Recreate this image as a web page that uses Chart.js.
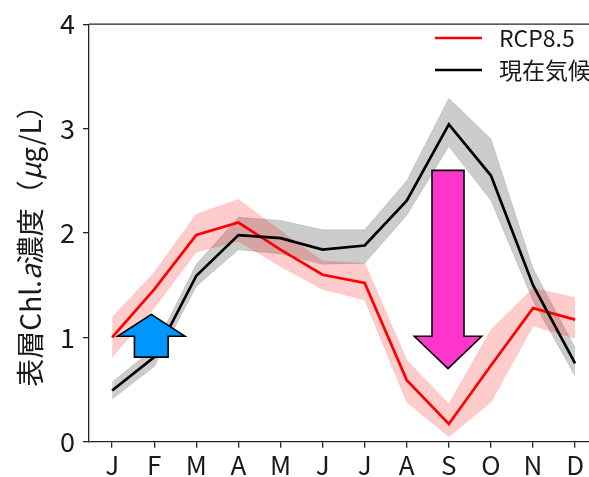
<!DOCTYPE html>
<html>
<head>
<meta charset="utf-8">
<script src="https://cdn.jsdelivr.net/npm/chart.js@4"></script>
<style>
html,body{margin:0;padding:0;background:#fff;}
#wrap{width:589px;height:477px;position:relative;}
</style>
</head>
<body>
<div id="wrap"><canvas id="c" width="589" height="477"></canvas></div>
<script>
const months = ['J','F','M','A','M','J','J','A','S','O','N','D'];
const yTicks = [0,1,2,3,4];
const seriesNames = ['RCP8.5','現在気候'];
const rcp85      = [1.00,1.46,1.98,2.10,1.84,1.60,1.52,0.59,0.17,0.73,1.28,1.17];
const rcp85Upper = [1.19,1.62,2.18,2.32,2.02,1.73,1.71,0.78,0.36,1.07,1.47,1.38];
const rcp85Lower = [0.81,1.28,1.82,1.92,1.68,1.46,1.36,0.38,0.05,0.38,1.11,0.99];
const present      = [0.49,0.81,1.59,1.98,1.95,1.84,1.88,2.31,3.04,2.55,1.50,0.75];
const presentUpper = [0.57,0.90,1.70,2.15,2.12,2.03,2.03,2.50,3.29,2.90,1.66,0.90];
const presentLower = [0.41,0.72,1.49,1.84,1.80,1.70,1.71,2.17,2.83,2.31,1.35,0.63];

const pts = arr => arr.map((v,i)=>({x:i,y:v}));
const FONT = "'Noto Sans CJK JP','Noto Sans',sans-serif";
const INK = '#1a1a1a';

const decor = {
  id:'decor',
  afterDatasetsDraw(chart){
    const ctx = chart.ctx, xs = chart.scales.x, ys = chart.scales.y, a = chart.chartArea;
    ctx.save();
    // top spine
    ctx.strokeStyle = '#262626'; ctx.lineWidth = 1.3;
    ctx.beginPath(); ctx.moveTo(a.left, a.top); ctx.lineTo(a.right, a.top); ctx.stroke();
    // arrows (annotation positions in data units)
    const arrows = [
      {x:0.93, tail:0.81, base:1.01, tip:1.22, hw:0.80, sw:0.40, color:'#0096ff'},
      {x:7.98, tail:2.60, base:1.01, tip:0.70, hw:0.80, sw:0.38, color:'#ff35cc'}
    ];
    arrows.forEach(ar=>{
      const cx = xs.getPixelForValue(ar.x);
      const hw = xs.getPixelForValue(ar.x+ar.hw)-cx;
      const sw = xs.getPixelForValue(ar.x+ar.sw)-cx;
      const yt = ys.getPixelForValue(ar.tail), yb = ys.getPixelForValue(ar.base), yp = ys.getPixelForValue(ar.tip);
      ctx.beginPath();
      ctx.moveTo(cx-sw, yt); ctx.lineTo(cx+sw, yt); ctx.lineTo(cx+sw, yb); ctx.lineTo(cx+hw, yb);
      ctx.lineTo(cx, yp); ctx.lineTo(cx-hw, yb); ctx.lineTo(cx-sw, yb); ctx.closePath();
      ctx.fillStyle = ar.color; ctx.fill();
      ctx.lineWidth = 1.6; ctx.strokeStyle = '#000'; ctx.lineJoin='miter'; ctx.stroke();
    });
    // legend
    const leg = [{c:'#ff0000', y:38},{c:'#000000', y:70}];
    leg.forEach((l,i)=>{
      ctx.beginPath(); ctx.strokeStyle = l.c; ctx.lineWidth = 2.6;
      ctx.moveTo(435, l.y); ctx.lineTo(482, l.y); ctx.stroke();
      ctx.fillStyle = INK; ctx.font = "23px " + FONT; ctx.textBaseline='middle'; ctx.textAlign='left';
      ctx.fillText(seriesNames[i], 499, l.y);
    });
    // y title with italic parts
    const segs = [['表層Chl.',false],['a',true],['濃度（',false],['μ',true],['g/L）',false]];
    const size = 28;
    ctx.translate(30, 239); ctx.rotate(-Math.PI/2);
    let total = 0;
    segs.forEach(s=>{ ctx.font = (s[1]?'italic ':'') + size+'px '+FONT; total += ctx.measureText(s[0]).width; });
    let x0 = -total/2;
    ctx.fillStyle = INK; ctx.textBaseline='middle'; ctx.textAlign='left';
    segs.forEach(s=>{ ctx.font = (s[1]?'italic ':'') + size+'px '+FONT; ctx.fillText(s[0], x0, 0); x0 += ctx.measureText(s[0]).width; });
    ctx.restore();
  }
};

new Chart(document.getElementById('c'), {
  type:'line',
  data:{
    datasets:[
      {label:seriesNames[1], data:pts(present), borderColor:'#000', borderWidth:2.7, pointRadius:0, fill:false, order:0, tension:0},
      {label:seriesNames[0], data:pts(rcp85), borderColor:'#ff0000', borderWidth:2.7, pointRadius:0, fill:false, order:1, tension:0},
      {label:'pl', data:pts(presentLower), borderColor:'rgba(0,0,0,0.12)', borderWidth:1, pointRadius:0, fill:false, order:5},
      {label:'pu', data:pts(presentUpper), borderColor:'rgba(0,0,0,0.12)', borderWidth:1, pointRadius:0, fill:'-1', backgroundColor:'rgba(0,0,0,0.2)', order:4},
      {label:'rl', data:pts(rcp85Lower), borderColor:'rgba(255,0,0,0.12)', borderWidth:1, pointRadius:0, fill:false, order:3},
      {label:'ru', data:pts(rcp85Upper), borderColor:'rgba(255,0,0,0.12)', borderWidth:1, pointRadius:0, fill:'-1', backgroundColor:'rgba(255,0,0,0.2)', order:2}
    ]
  },
  options:{
    responsive:false, animation:false, devicePixelRatio:1,
    layout:{padding:{top:20,right:0,left:0,bottom:0}},
    plugins:{legend:{display:false}, tooltip:{enabled:false}},
    scales:{
      x:{type:'linear', min:-0.55, max:11.33,
        afterBuildTicks:s=>{ s.ticks = months.map((m,i)=>({value:i})); },
        afterFit:s=>{ s.height = 477-441.7; },
        grid:{drawOnChartArea:false, drawTicks:true, tickLength:6, color:'#262626', lineWidth:1.3},
        border:{color:'#262626', width:1.3},
        ticks:{autoSkip:false, maxRotation:0, padding:2, color:INK, font:{family:FONT, size:26}, callback:(v)=>months[v]}
      },
      y:{type:'linear', min:0, max:4,
        afterBuildTicks:s=>{ s.ticks = yTicks.map(v=>({value:v})); },
        afterFit:s=>{ s.width = 89; },
        grid:{drawOnChartArea:false, drawTicks:true, tickLength:6, color:'#262626', lineWidth:1.3},
        border:{color:'#262626', width:1.3},
        ticks:{padding:8, color:INK, font:{family:FONT, size:27}}
      }
    }
  },
  plugins:[decor]
});
</script>
</body>
</html>
